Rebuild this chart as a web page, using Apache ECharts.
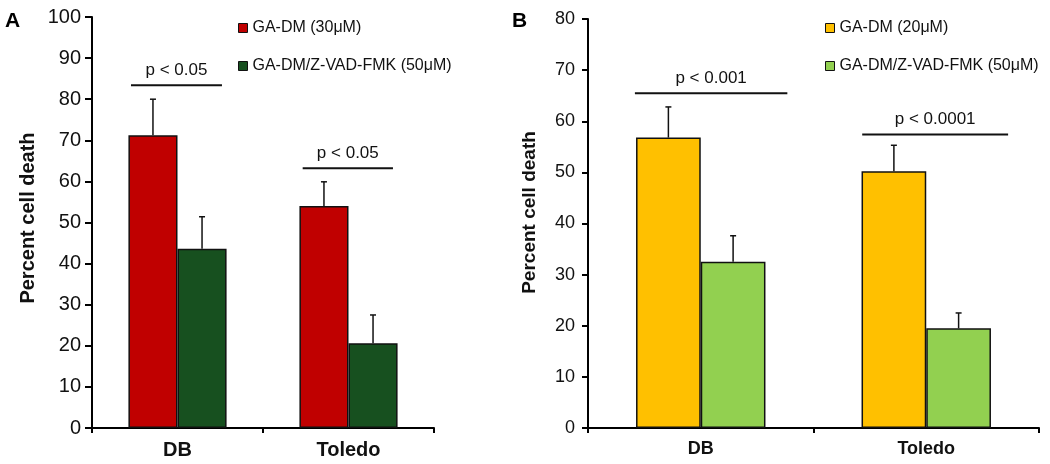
<!DOCTYPE html>
<html>
<head>
<meta charset="utf-8">
<script src="https://cdn.jsdelivr.net/npm/echarts@6/dist/echarts.min.js"></script>
<style>
  html, body { margin: 0; padding: 0; background: #fff; }
  #main { width: 1050px; height: 464px; }
</style>
</head>
<body>
<div id="main"></div>
<script>
// data
var categories = ['DB', 'Toledo'];

var aNames = ['GA-DM (30μM)', 'GA-DM/Z-VAD-FMK (50μM)'];
var aDrug = [71.2, 54.0];
var aDrugSd = [8.8, 5.9];
var aBlock = [43.6, 20.6];
var aBlockSd = [7.8, 6.9];
var aSigLevel = [83.4, 63.2];
var aSigText = ['p < 0.05', 'p < 0.05'];

var bNames = ['GA-DM (20μM)', 'GA-DM/Z-VAD-FMK (50μM)'];
var bDrug = [56.8, 50.2];
var bDrugSd = [6.0, 5.1];
var bBlock = [32.5, 19.5];
var bBlockSd = [5.1, 3.0];
var bSigLevel = [65.5, 57.4];
var bSigText = ['p < 0.001', 'p < 0.0001'];

var yTicksA = { min: 0, max: 100, interval: 10 };
var yTicksB = { min: 0, max: 80, interval: 10 };

var FONT = '"Liberation Sans", Arial, sans-serif';
var INK = '#111';

var myChart = echarts.init(document.getElementById('main'));

function errRender(offset) {
    return function(params, api) {
        var c = api.value(0), m = api.value(1), s = api.value(2);
        var p0 = api.coord([c, m]);
        var p1 = api.coord([c, m + s]);
        var bw = api.size([1, 0])[0];
        var x = p0[0] + offset * bw;
        var st = { stroke: INK, lineWidth: 1.5 };
        return {
            type: 'group',
            children: [
                { type: 'line', shape: { x1: x, y1: p0[1], x2: x, y2: p1[1] }, style: st },
                { type: 'line', shape: { x1: x - 3, y1: p1[1], x2: x + 3, y2: p1[1] }, style: st }
            ]
        };
    };
}

function sigRender(spans, texts) {
    return function(params, api) {
        var c = api.value(0), lvl = api.value(1);
        var p = api.coord([c, lvl]);
        var bw = api.size([1, 0])[0];
        var sp = spans[params.dataIndex];
        var x0 = p[0] + sp[0] * bw, x1 = p[0] + sp[1] * bw;
        return {
            type: 'group',
            children: [
                { type: 'line', shape: { x1: x0, y1: p[1], x2: x1, y2: p[1] },
                  style: { stroke: INK, lineWidth: 2 } },
                { type: 'text', x: (x0 + x1) / 2, y: p[1] - 15,
                  style: { text: texts[params.dataIndex], fill: INK, font: '17px ' + FONT,
                           align: 'center', verticalAlign: 'middle' } }
            ]
        };
    };
}

function toPairs(vals, sds) {
    return vals.map(function(v, i) { return [i, v, sds[i]]; });
}

function yAxisFor(idx, ticks, fontSize, nameSize, margin, tickLen, gap, pad) {
    return {
        type: 'value', gridIndex: idx,
        min: ticks.min, max: ticks.max, interval: ticks.interval,
        name: 'Percent cell death', nameLocation: 'middle', nameRotate: 90, nameGap: gap,
        nameTextStyle: { fontFamily: FONT, fontWeight: 'bold', fontSize: nameSize, color: INK, padding: pad },
        axisLine: { show: true, lineStyle: { color: '#000', width: 2 } },
        axisTick: { show: true, length: tickLen, lineStyle: { color: '#000', width: 2 } },
        axisLabel: { fontFamily: FONT, fontSize: fontSize, color: INK, margin: margin },
        splitLine: { show: false }
    };
}

function xAxisFor(idx, fontSize) {
    return {
        type: 'category', gridIndex: idx, data: categories,
        axisLine: { show: true, lineStyle: { color: '#000', width: 2 } },
        axisTick: { show: true, length: 5, lineStyle: { color: '#000', width: 2 } },
        axisLabel: { fontFamily: FONT, fontWeight: 'bold', fontSize: fontSize, color: INK, margin: 12 }
    };
}

function barSeries(name, idx, data, color) {
    return {
        name: name, type: 'bar', xAxisIndex: idx, yAxisIndex: idx,
        data: data, barWidth: '28.7%', barGap: '0%',
        itemStyle: { color: color, borderColor: INK, borderWidth: 1.5 },
        z: 2
    };
}

function legendFor(left, names, colors) {
    return {
        orient: 'vertical', left: left, top: 19, padding: 0,
        itemWidth: 9, itemHeight: 9, itemGap: 20, icon: 'rect',
        selectedMode: false,
        textStyle: { fontFamily: FONT, fontSize: 16, color: INK, lineHeight: 18 },
        data: names.map(function(n, i) {
            return { name: n, itemStyle: { color: colors[i], borderColor: INK, borderWidth: 1 } };
        })
    };
}

var aColors = ['#c00000', '#17501f'];
var bColors = ['#ffc000', '#92d050'];

var option = {
    animation: false,
    backgroundColor: '#fff',
    title: [
        { text: 'A', left: 5, top: 11, padding: 0,
          textStyle: { fontFamily: FONT, fontWeight: 'bold', fontSize: 21, color: '#000' } },
        { text: 'B', left: 512, top: 11, padding: 0,
          textStyle: { fontFamily: FONT, fontWeight: 'bold', fontSize: 21, color: '#000' } }
    ],
    legend: [
        legendFor(238, aNames, aColors),
        legendFor(825, bNames, bColors)
    ],
    grid: [
        { left: 92, top: 17, width: 342, height: 411 },
        { left: 588, top: 19, width: 451, height: 409 }
    ],
    xAxis: [xAxisFor(0, 20), xAxisFor(1, 18)],
    yAxis: [
        yAxisFor(0, yTicksA, 20, 20, 11, 7, 54, [0, 0, 0, 9]),
        yAxisFor(1, yTicksB, 18, 19, 13, 6, 49, [0, 0, 0, 22])
    ],
    series: [
        barSeries(aNames[0], 0, aDrug, aColors[0]),
        barSeries(aNames[1], 0, aBlock, aColors[1]),
        { type: 'custom', xAxisIndex: 0, yAxisIndex: 0, z: 3,
          renderItem: errRender(-0.1435), data: toPairs(aDrug, aDrugSd), encode: { x: 0, y: 1 } },
        { type: 'custom', xAxisIndex: 0, yAxisIndex: 0, z: 3,
          renderItem: errRender(0.1435), data: toPairs(aBlock, aBlockSd), encode: { x: 0, y: 1 } },
        { type: 'custom', xAxisIndex: 0, yAxisIndex: 0, z: 3,
          renderItem: sigRender([[-0.272, 0.26], [-0.268, 0.26]], aSigText),
          data: aSigLevel.map(function(v, i) { return [i, v]; }), encode: { x: 0, y: 1 } },

        barSeries(bNames[0], 1, bDrug, bColors[0]),
        barSeries(bNames[1], 1, bBlock, bColors[1]),
        { type: 'custom', xAxisIndex: 1, yAxisIndex: 1, z: 3,
          renderItem: errRender(-0.1435), data: toPairs(bDrug, bDrugSd), encode: { x: 0, y: 1 } },
        { type: 'custom', xAxisIndex: 1, yAxisIndex: 1, z: 3,
          renderItem: errRender(0.1435), data: toPairs(bBlock, bBlockSd), encode: { x: 0, y: 1 } },
        { type: 'custom', xAxisIndex: 1, yAxisIndex: 1, z: 3,
          renderItem: sigRender([[-0.292, 0.384], [-0.284, 0.363]], bSigText),
          data: bSigLevel.map(function(v, i) { return [i, v]; }), encode: { x: 0, y: 1 } }
    ]
};

myChart.setOption(option);
</script>
</body>
</html>
